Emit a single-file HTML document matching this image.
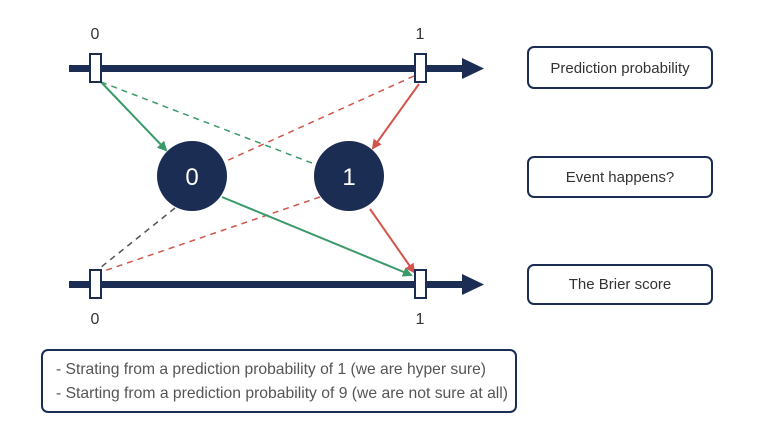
<!DOCTYPE html>
<html><head><style>
body{margin:0;width:768px;height:431px;background:#fff;overflow:hidden;font-family:"Liberation Sans",sans-serif;}
</style></head><body>
<svg width="768" height="431" viewBox="0 0 768 431">
<defs>
<marker id="ag" markerWidth="10" markerHeight="10" refX="8" refY="5" orient="auto" markerUnits="userSpaceOnUse"><path d="M0,0 L10,5 L0,10 Z" fill="#3a9a68"/></marker>
<marker id="ar" markerWidth="10" markerHeight="10" refX="8" refY="5" orient="auto" markerUnits="userSpaceOnUse"><path d="M0,0 L10,5 L0,10 Z" fill="#d2544b"/></marker>
</defs>
<g fill="#1b2d52">
<rect x="69" y="65" width="400" height="7"/>
<path d="M462,58 L484,68.5 L462,79 Z"/>
<rect x="69" y="281" width="400" height="7"/>
<path d="M462,274 L484,284.5 L462,295 Z"/>
</g>
<g stroke-width="1.5" fill="none">
<line x1="101" y1="82" x2="317" y2="165" stroke="#3a9a68" stroke-dasharray="6,5"/>
<line x1="414" y1="76" x2="224" y2="162" stroke="#d2544b" stroke-dasharray="6,5"/>
<line x1="320" y1="197" x2="101" y2="272" stroke="#d2544b" stroke-dasharray="6,5"/>
<line x1="175" y1="208" x2="100" y2="268" stroke="#555" stroke-dasharray="6,5"/>
<line x1="101" y1="82" x2="166" y2="150" stroke="#3a9a68" stroke-width="2" marker-end="url(#ag)"/>
<line x1="419" y1="84" x2="373" y2="148" stroke="#d2544b" stroke-width="2" marker-end="url(#ar)"/>
<line x1="222" y1="197" x2="411" y2="275" stroke="#3a9a68" stroke-width="2" marker-end="url(#ag)"/>
<line x1="370" y1="209" x2="414" y2="272" stroke="#d2544b" stroke-width="2" marker-end="url(#ar)"/>
</g>
<g fill="#fff" stroke="#1b2d52" stroke-width="2">
<rect x="90" y="54" width="11" height="28"/>
<rect x="415" y="54" width="11" height="28"/>
<rect x="90" y="270" width="11" height="28"/>
<rect x="415" y="270" width="11" height="28"/>
</g>
<circle cx="192" cy="176" r="35" fill="#1b2d52"/>
<circle cx="349" cy="176" r="35" fill="#1b2d52"/>
<g font-size="24" fill="#fff" text-anchor="middle"><text x="192" y="185">0</text><text x="349" y="185">1</text></g>
<g font-size="16" fill="#333" text-anchor="middle">
<text x="95" y="39">0</text><text x="420" y="39">1</text>
<text x="95" y="324">0</text><text x="420" y="324">1</text>
</g>
<g fill="#fff" stroke="#1b2d52" stroke-width="2">
<rect x="528" y="47" width="184" height="41" rx="6"/>
<rect x="528" y="157" width="184" height="40" rx="6"/>
<rect x="528" y="265" width="184" height="39" rx="6"/>
<rect x="42" y="350" width="474" height="62" rx="6"/>
</g>
<g font-size="15" fill="#333" text-anchor="middle">
<text x="620" y="73">Prediction probability</text>
<text x="620" y="182">Event happens?</text>
<text x="620" y="289">The Brier score</text>
</g>
<g font-size="16" fill="#555">
<text x="56" y="374" textLength="430" lengthAdjust="spacingAndGlyphs">- Strating from a prediction probability of 1 (we are hyper sure)</text>
<text x="56" y="398" textLength="452" lengthAdjust="spacingAndGlyphs">- Starting from a prediction probability of 9 (we are not sure at all)</text>
</g>
</svg>
</body></html>
